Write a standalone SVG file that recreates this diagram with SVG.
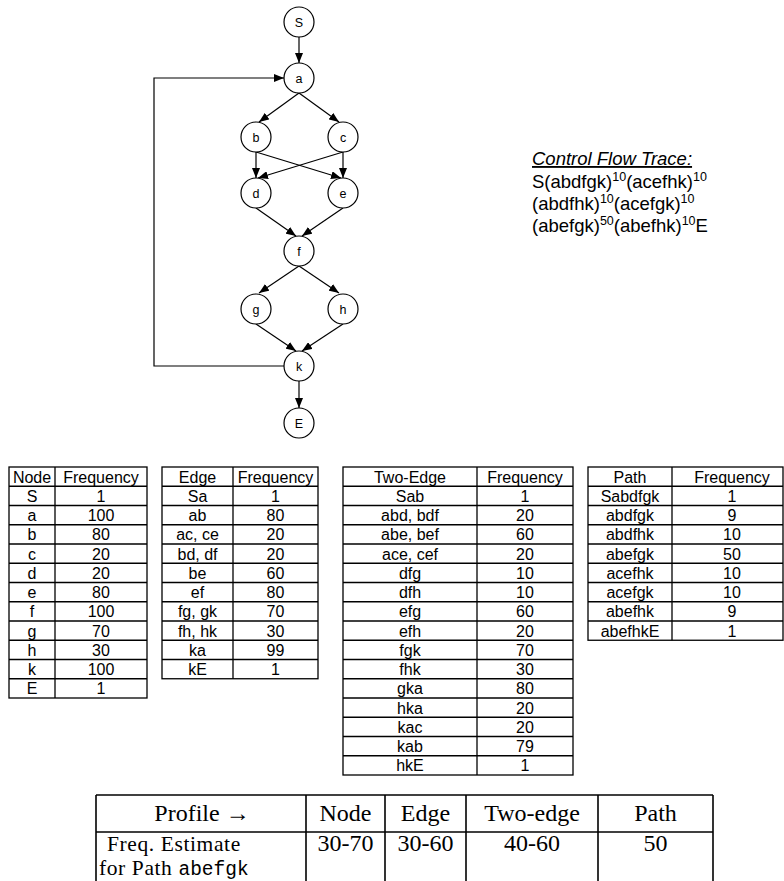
<svg xmlns="http://www.w3.org/2000/svg" width="784" height="881" viewBox="0 0 784 881">
<style>
.nd circle{fill:#fff;stroke:#000;stroke-width:1.2}
.nd text{font-family:"Liberation Sans",Arial,sans-serif;font-size:12.5px;text-anchor:middle}
.cn path{fill:none;stroke:#000;stroke-width:1.2}
.tr{font-family:"Liberation Sans",Arial,sans-serif;font-size:18.5px}
.sup{font-size:12.5px}
.tb line,.tb rect{stroke:#000;stroke-width:1.3;fill:none}
.tb text{font-family:"Liberation Sans",Arial,sans-serif;font-size:16px;text-anchor:middle}
.bt line{stroke:#000;stroke-width:1.6}
.bt text{font-family:"Liberation Serif","Times New Roman",serif;font-size:24px;text-anchor:middle}
.bt text.l{text-anchor:start;font-size:21.5px;letter-spacing:0.6px}
.mono{font-family:"Liberation Mono","Courier New",monospace;font-size:19.5px;letter-spacing:0}
</style>
<defs>
<marker id="ar" markerUnits="userSpaceOnUse" viewBox="0 0 10 8" markerWidth="10" markerHeight="8" refX="10" refY="4" orient="auto">
<path d="M0,0 L10,4 L0,8 z" fill="#000"/>
</marker>
</defs>
<g class="cn" id="connectors">
<path marker-end="url(#ar)" d="M299,37 L299,63"/>
<path marker-end="url(#ar)" d="M299,93 L259,122"/>
<path marker-end="url(#ar)" d="M299,93 L339,122"/>
<path marker-end="url(#ar)" d="M256,152 L256,178"/>
<path marker-end="url(#ar)" d="M256,152 L341,178"/>
<path marker-end="url(#ar)" d="M343,152 L258,178"/>
<path marker-end="url(#ar)" d="M343,152 L343,178"/>
<path marker-end="url(#ar)" d="M256,208 L296,236"/>
<path marker-end="url(#ar)" d="M343,208 L302,236"/>
<path marker-end="url(#ar)" d="M299,266 L259,293"/>
<path marker-end="url(#ar)" d="M299,266 L339,293"/>
<path marker-end="url(#ar)" d="M256,324 L296,351"/>
<path marker-end="url(#ar)" d="M343,324 L302,351"/>
<path marker-end="url(#ar)" d="M299,381 L299,408"/>
<path marker-end="url(#ar)" d="M284,366 L154,366 L154,78 L284,78"/>
</g>
<g class="nd" id="node-S"><circle cx="299" cy="22" r="15"/><text x="299" y="26.5">S</text></g>
<g class="nd" id="node-a"><circle cx="299" cy="78" r="15"/><text x="299" y="82.5">a</text></g>
<g class="nd" id="node-b"><circle cx="256" cy="137" r="15"/><text x="256" y="141.5">b</text></g>
<g class="nd" id="node-c"><circle cx="343" cy="137" r="15"/><text x="343" y="141.5">c</text></g>
<g class="nd" id="node-d"><circle cx="256" cy="193" r="15"/><text x="256" y="197.5">d</text></g>
<g class="nd" id="node-e"><circle cx="343" cy="193" r="15"/><text x="343" y="197.5">e</text></g>
<g class="nd" id="node-f"><circle cx="299" cy="251" r="15"/><text x="299" y="255.5">f</text></g>
<g class="nd" id="node-g"><circle cx="256" cy="309" r="15"/><text x="256" y="313.5">g</text></g>
<g class="nd" id="node-h"><circle cx="343" cy="309" r="15"/><text x="343" y="313.5">h</text></g>
<g class="nd" id="node-k"><circle cx="299" cy="366" r="15"/><text x="299" y="370.5">k</text></g>
<g class="nd" id="node-E"><circle cx="299" cy="423" r="15"/><text x="299" y="427.5">E</text></g>

<g id="trace" class="tr">
<text x="532" y="165" font-style="italic" text-decoration="underline">Control Flow Trace:</text>
<text x="532" y="187.5">S(abdfgk)<tspan class="sup" dy="-7">10</tspan><tspan dy="7">(acefhk)</tspan><tspan class="sup" dy="-7">10</tspan></text>
<text x="532" y="209.5">(abdfhk)<tspan class="sup" dy="-7">10</tspan><tspan dy="7">(acefgk)</tspan><tspan class="sup" dy="-7">10</tspan></text>
<text x="532" y="231.5">(abefgk)<tspan class="sup" dy="-7">50</tspan><tspan dy="7">(abefhk)</tspan><tspan class="sup" dy="-7">10</tspan><tspan dy="7">E</tspan></text>
</g>

<g id="node-table" class="tb">
<rect x="9" y="467" width="138" height="231"/>
<line x1="55" y1="467" x2="55" y2="698"/>
<line x1="9" y1="486.25" x2="147" y2="486.25"/>
<line x1="9" y1="505.5" x2="147" y2="505.5"/>
<line x1="9" y1="524.75" x2="147" y2="524.75"/>
<line x1="9" y1="544" x2="147" y2="544"/>
<line x1="9" y1="563.25" x2="147" y2="563.25"/>
<line x1="9" y1="582.5" x2="147" y2="582.5"/>
<line x1="9" y1="601.75" x2="147" y2="601.75"/>
<line x1="9" y1="621" x2="147" y2="621"/>
<line x1="9" y1="640.25" x2="147" y2="640.25"/>
<line x1="9" y1="659.5" x2="147" y2="659.5"/>
<line x1="9" y1="678.75" x2="147" y2="678.75"/>
<text x="32" y="482.5">Node</text><text x="101" y="482.5">Frequency</text>
<text x="32" y="501.75">S</text><text x="101" y="501.75">1</text>
<text x="32" y="521">a</text><text x="101" y="521">100</text>
<text x="32" y="540.25">b</text><text x="101" y="540.25">80</text>
<text x="32" y="559.5">c</text><text x="101" y="559.5">20</text>
<text x="32" y="578.75">d</text><text x="101" y="578.75">20</text>
<text x="32" y="598">e</text><text x="101" y="598">80</text>
<text x="32" y="617.25">f</text><text x="101" y="617.25">100</text>
<text x="32" y="636.5">g</text><text x="101" y="636.5">70</text>
<text x="32" y="655.75">h</text><text x="101" y="655.75">30</text>
<text x="32" y="675">k</text><text x="101" y="675">100</text>
<text x="32" y="694.25">E</text><text x="101" y="694.25">1</text>
</g>

<g id="edge-table" class="tb">
<rect x="162" y="467" width="156" height="211.75"/>
<line x1="233" y1="467" x2="233" y2="678.75"/>
<line x1="162" y1="486.25" x2="318" y2="486.25"/>
<line x1="162" y1="505.5" x2="318" y2="505.5"/>
<line x1="162" y1="524.75" x2="318" y2="524.75"/>
<line x1="162" y1="544" x2="318" y2="544"/>
<line x1="162" y1="563.25" x2="318" y2="563.25"/>
<line x1="162" y1="582.5" x2="318" y2="582.5"/>
<line x1="162" y1="601.75" x2="318" y2="601.75"/>
<line x1="162" y1="621" x2="318" y2="621"/>
<line x1="162" y1="640.25" x2="318" y2="640.25"/>
<line x1="162" y1="659.5" x2="318" y2="659.5"/>
<text x="197.5" y="482.5">Edge</text><text x="275.5" y="482.5">Frequency</text>
<text x="197.5" y="501.75">Sa</text><text x="275.5" y="501.75">1</text>
<text x="197.5" y="521">ab</text><text x="275.5" y="521">80</text>
<text x="197.5" y="540.25">ac, ce</text><text x="275.5" y="540.25">20</text>
<text x="197.5" y="559.5">bd, df</text><text x="275.5" y="559.5">20</text>
<text x="197.5" y="578.75">be</text><text x="275.5" y="578.75">60</text>
<text x="197.5" y="598">ef</text><text x="275.5" y="598">80</text>
<text x="197.5" y="617.25">fg, gk</text><text x="275.5" y="617.25">70</text>
<text x="197.5" y="636.5">fh, hk</text><text x="275.5" y="636.5">30</text>
<text x="197.5" y="655.75">ka</text><text x="275.5" y="655.75">99</text>
<text x="197.5" y="675">kE</text><text x="275.5" y="675">1</text>
</g>

<g id="two-edge-table" class="tb">
<rect x="343" y="467" width="230" height="308"/>
<line x1="477" y1="467" x2="477" y2="775"/>
<line x1="343" y1="486.25" x2="573" y2="486.25"/>
<line x1="343" y1="505.5" x2="573" y2="505.5"/>
<line x1="343" y1="524.75" x2="573" y2="524.75"/>
<line x1="343" y1="544" x2="573" y2="544"/>
<line x1="343" y1="563.25" x2="573" y2="563.25"/>
<line x1="343" y1="582.5" x2="573" y2="582.5"/>
<line x1="343" y1="601.75" x2="573" y2="601.75"/>
<line x1="343" y1="621" x2="573" y2="621"/>
<line x1="343" y1="640.25" x2="573" y2="640.25"/>
<line x1="343" y1="659.5" x2="573" y2="659.5"/>
<line x1="343" y1="678.75" x2="573" y2="678.75"/>
<line x1="343" y1="698" x2="573" y2="698"/>
<line x1="343" y1="717.25" x2="573" y2="717.25"/>
<line x1="343" y1="736.5" x2="573" y2="736.5"/>
<line x1="343" y1="755.75" x2="573" y2="755.75"/>
<text x="410" y="482.5">Two-Edge</text><text x="525" y="482.5">Frequency</text>
<text x="410" y="501.75">Sab</text><text x="525" y="501.75">1</text>
<text x="410" y="521">abd, bdf</text><text x="525" y="521">20</text>
<text x="410" y="540.25">abe, bef</text><text x="525" y="540.25">60</text>
<text x="410" y="559.5">ace, cef</text><text x="525" y="559.5">20</text>
<text x="410" y="578.75">dfg</text><text x="525" y="578.75">10</text>
<text x="410" y="598">dfh</text><text x="525" y="598">10</text>
<text x="410" y="617.25">efg</text><text x="525" y="617.25">60</text>
<text x="410" y="636.5">efh</text><text x="525" y="636.5">20</text>
<text x="410" y="655.75">fgk</text><text x="525" y="655.75">70</text>
<text x="410" y="675">fhk</text><text x="525" y="675">30</text>
<text x="410" y="694.25">gka</text><text x="525" y="694.25">80</text>
<text x="410" y="713.5">hka</text><text x="525" y="713.5">20</text>
<text x="410" y="732.75">kac</text><text x="525" y="732.75">20</text>
<text x="410" y="752">kab</text><text x="525" y="752">79</text>
<text x="410" y="771.25">hkE</text><text x="525" y="771.25">1</text>
</g>

<g id="path-table" class="tb">
<rect x="588" y="467" width="195" height="173.25"/>
<line x1="672" y1="467" x2="672" y2="640.25"/>
<line x1="588" y1="486.25" x2="783" y2="486.25"/>
<line x1="588" y1="505.5" x2="783" y2="505.5"/>
<line x1="588" y1="524.75" x2="783" y2="524.75"/>
<line x1="588" y1="544" x2="783" y2="544"/>
<line x1="588" y1="563.25" x2="783" y2="563.25"/>
<line x1="588" y1="582.5" x2="783" y2="582.5"/>
<line x1="588" y1="601.75" x2="783" y2="601.75"/>
<line x1="588" y1="621" x2="783" y2="621"/>
<text x="630" y="482.5">Path</text><text x="732" y="482.5">Frequency</text>
<text x="630" y="501.75">Sabdfgk</text><text x="732" y="501.75">1</text>
<text x="630" y="521">abdfgk</text><text x="732" y="521">9</text>
<text x="630" y="540.25">abdfhk</text><text x="732" y="540.25">10</text>
<text x="630" y="559.5">abefgk</text><text x="732" y="559.5">50</text>
<text x="630" y="578.75">acefhk</text><text x="732" y="578.75">10</text>
<text x="630" y="598">acefgk</text><text x="732" y="598">10</text>
<text x="630" y="617.25">abefhk</text><text x="732" y="617.25">9</text>
<text x="630" y="636.5">abefhkE</text><text x="732" y="636.5">1</text>
</g>

<g id="estimate-table" class="bt">
<line x1="96" y1="795" x2="713" y2="795"/>
<line x1="96" y1="832" x2="713" y2="832"/>
<line x1="96" y1="795" x2="96" y2="881"/>
<line x1="306" y1="795" x2="306" y2="881"/>
<line x1="385" y1="795" x2="385" y2="881"/>
<line x1="466" y1="795" x2="466" y2="881"/>
<line x1="598" y1="795" x2="598" y2="881"/>
<line x1="713" y1="795" x2="713" y2="881"/>
<text x="202" y="821">Profile →</text>
<text x="345.5" y="821">Node</text>
<text x="425.5" y="821">Edge</text>
<text x="532" y="821">Two-edge</text>
<text x="655.5" y="821">Path</text>
<text class="l" x="107" y="850.5">Freq. Estimate</text>
<text class="l" x="99" y="875">for Path <tspan class="mono">abefgk</tspan></text>
<text x="345.5" y="851">30-70</text>
<text x="425.5" y="851">30-60</text>
<text x="532" y="851">40-60</text>
<text x="655.5" y="851">50</text>
</g>
</svg>
